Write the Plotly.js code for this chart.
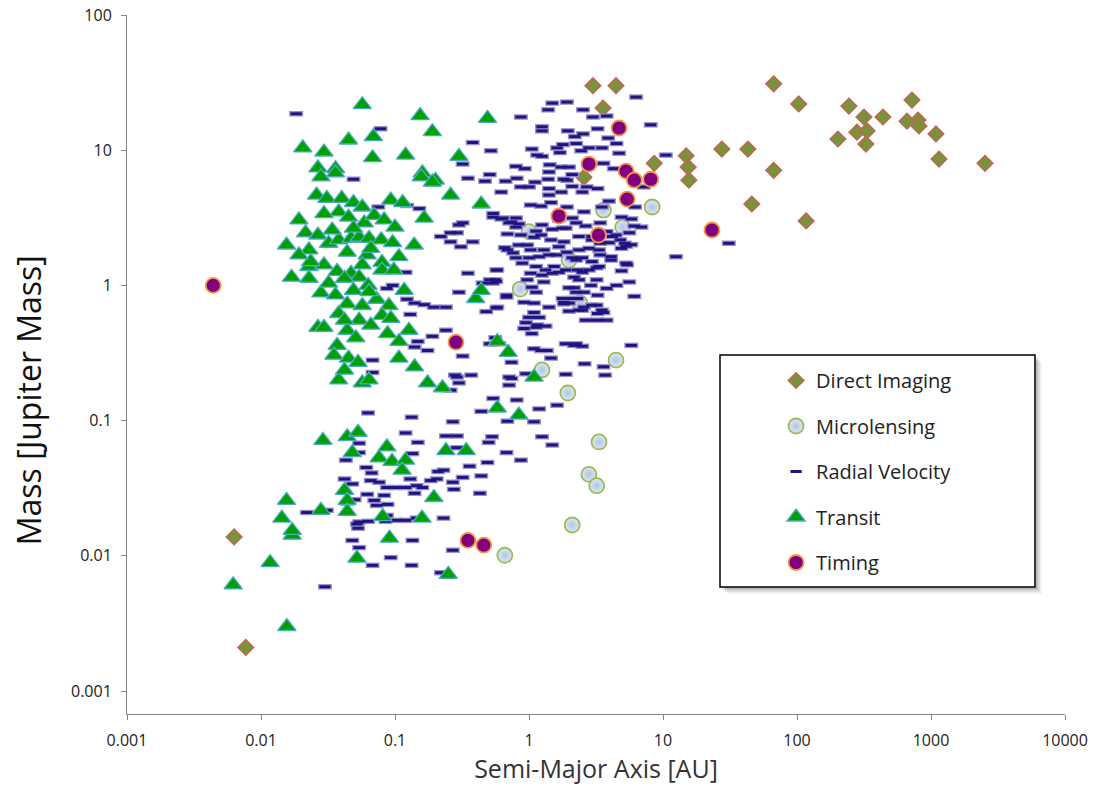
<!DOCTYPE html>
<html>
<head>
<meta charset="utf-8">
<script src="https://cdn.plot.ly/plotly-3.0.1.min.js"></script>
<style>html,body{margin:0;padding:0;background:#fff;}#chart{width:1100px;height:795px;}</style>
</head>
<body>
<div id="chart"></div>
<script>
// ---------- data (semi-major axis [AU], mass [Jupiter mass]) ----------
const seriesNames = ["Direct Imaging", "Microlensing", "Radial Velocity", "Transit", "Timing"];

const diX = [0.0063, 0.0077, 3.0, 4.46, 3.57, 8.6, 2.57, 67, 103, 244, 316, 438, 721, 662, 800, 813, 1089, 280, 333, 202, 327, 1148, 2529, 14.9, 15.4, 15.6, 27.5, 43, 67, 46, 117];
const diY = [0.0138, 0.0021, 30, 30, 20.5, 8.0, 6.3, 31, 22, 21.2, 17.6, 17.6, 23.5, 16.4, 16.7, 15.1, 13.2, 13.6, 13.9, 12.1, 11.1, 8.6, 8.0, 9.1, 7.5, 6.0, 10.2, 10.2, 7.1, 4.0, 3.0];

const muX = [8.3, 3.6, 5.0, 1.0, 1.99, 0.86, 2.4, 4.46, 1.25, 1.95, 3.33, 2.8, 3.2, 2.1, 0.66];
const muY = [3.8, 3.6, 2.7, 2.5, 1.54, 0.94, 0.74, 0.28, 0.237, 0.16, 0.0695, 0.040, 0.033, 0.0169, 0.0101];

const rvX = [1.49, 1.92, 1.39, 2.53, 6.3, 3.0, 3.8, 0.87, 1.25, 1.25, 1.95, 2.53, 2.2, 3.25, 8.1, 3.9, 4.5, 0.38, 0.52, 1.05,
  1.25, 1.62, 1.79, 2.25, 2.45, 2.8, 3.5, 4.7, 1.15, 1.7, 0.80, 0.93, 1.43, 1.74, 1.41, 1.99, 2.1, 1.92, 3.6, 4.3,
  0.35, 0.47, 0.51, 0.67, 0.81, 0.87, 1.0, 1.11, 0.62, 1.39, 1.82, 2.1, 1.41, 1.74, 2.7, 3.25, 2.5, 7.2, 0.0183, 0.078,
  0.049, 0.32, 0.075, 0.152, 0.123, 0.54, 0.64, 0.32, 0.30, 0.26, 0.22, 0.31, 0.38, 0.66, 0.12, 0.35, 0.57, 0.57, 0.54, 0.096,
  0.087, 0.123, 0.14, 0.165, 0.195, 0.24, 0.13, 0.48, 0.57, 0.68, 0.24, 0.19, 0.148, 0.14, 0.175, 0.32, 0.54, 0.068, 0.068, 0.29,
  0.37, 0.56, 0.51, 0.30, 0.26, 0.95, 0.71, 0.71, 1.09, 1.23, 1.36, 1.46, 1.88, 2.17, 1.88, 0.44, 0.54, 0.81, 1.19, 1.62,
  0.69, 1.09, 1.25, 1.49, 0.53, 0.50, 0.68, 0.87, 0.44, 0.43, 0.32, 0.27, 0.275, 0.21, 0.16, 0.14, 0.13, 0.12, 0.10, 0.087,
  0.083, 0.070, 0.073, 0.088, 0.062, 0.061, 0.067, 0.076, 0.066, 0.24, 0.29, 0.29, 0.148, 0.135, 0.063, 0.133, 0.27, 0.12, 0.054, 0.054,
  0.042, 0.048, 0.022, 0.031, 0.050, 0.044, 0.087, 0.10, 0.12, 0.145, 0.23, 0.054, 0.063, 0.36, 0.49, 0.23, 0.205, 0.185, 0.145, 0.085,
  0.052, 0.048, 0.054, 0.043, 0.053, 0.030, 0.068, 0.093, 0.133, 0.22, 0.135, 0.27, 0.29, 0.26, 0.30, 12.5, 31, 10.5, 2.6, 3.6,
  3.7, 0.74, 0.74, 0.28, 1.41, 1.03, 1.23, 1.46, 1.92, 2.57, 3.5, 3.95, 0.62, 0.80, 0.84, 0.71, 1.13, 1.25, 1.49, 1.88,
  2.25, 2.65, 2.1, 1.67, 3.4, 4.45, 4.8, 5.3, 5.6, 6.9, 0.87, 1.23, 1.46, 1.82, 2.36, 2.95, 3.4, 3.95, 0.69, 0.84,
  1.03, 1.29, 1.67, 1.92, 2.36, 2.8, 3.4, 4.1, 4.9, 0.80, 1.0, 1.19, 1.41, 2.1, 2.5, 2.95, 3.33, 2.8, 2.3, 1.88,
  1.54, 1.33, 1.13, 0.89, 1.03, 1.25, 1.49, 0.58, 5.4, 5.6, 4.5, 3.2, 2.36, 1.99, 2.25, 2.57, 2.9, 3.25, 2.1, 1.78,
  1.82, 1.99, 2.57, 2.95, 3.6, 3.25, 3.8, 2.36, 1.99, 1.41, 1.09, 0.92, 0.68, 0.56, 0.58, 1.09, 1.0, 1.19, 0.95, 1.15,
  1.33, 2.25, 2.5, 5.8, 0.76, 0.54, 0.74, 0.80, 0.69, 0.97, 1.09, 1.78, 2.95, 3.8, 4.2, 3.33, 1.6, 2.25, 3.2, 2.5,
  2.17, 1.67, 0.51, 0.45, 0.97, 1.05, 1.29, 1.13, 0.92, 1.13, 1.05, 1.82, 2.3, 2.17, 2.5, 3.2, 3.5, 2.65, 3.2, 5.3,
  6.1, 3.8, 4.1, 4.9, 5.8, 6.1, 0.60, 6.2, 5.8, 4.9, 5.2];
const rvY = [22.3, 22.7, 19.9, 19.9, 24.7, 17.6, 17.9, 17.6, 14.9, 13.9, 13.9, 13.2, 12.6, 14.4, 15.4, 12.3, 11.2, 11.4, 9.9, 10.2,
  9.0, 10.4, 11.0, 11.2, 9.9, 10.4, 10.4, 9.5, 9.2, 9.6, 7.6, 7.3, 7.8, 7.5, 6.9, 7.5, 6.6, 6.0, 8.0, 7.3,
  6.2, 5.9, 6.6, 5.9, 6.2, 5.35, 5.35, 5.8, 4.9, 6.1, 6.1, 5.4, 5.2, 4.9, 5.35, 5.2, 4.9, 5.35, 18.6, 14.4,
  6.1, 7.9, 3.8, 3.7, 3.9, 3.4, 3.15, 2.9, 2.8, 2.45, 2.3, 1.93, 2.1, 1.9, 1.25, 1.23, 1.30, 1.07, 1.04, 1.0,
  0.95, 0.79, 0.74, 0.72, 0.69, 0.69, 0.61, 0.64, 0.68, 0.82, 0.466, 0.42, 0.385, 0.35, 0.33, 0.30, 0.37, 0.28, 0.227, 0.21,
  0.217, 0.41, 0.37, 0.19, 0.168, 0.222, 0.21, 0.183, 0.34, 0.33, 0.33, 0.29, 0.37, 0.36, 0.22, 0.117, 0.146, 0.142, 0.122, 0.130,
  0.099, 0.098, 0.076, 0.066, 0.076, 0.069, 0.058, 0.051, 0.039, 0.029, 0.038, 0.035, 0.031, 0.042, 0.032, 0.029, 0.037, 0.032, 0.032, 0.032,
  0.028, 0.0257, 0.0236, 0.024, 0.0285, 0.045, 0.041, 0.035, 0.036, 0.077, 0.077, 0.063, 0.069, 0.057, 0.114, 0.106, 0.098, 0.081, 0.068, 0.058,
  0.037, 0.034, 0.0209, 0.0217, 0.026, 0.0245, 0.0199, 0.0183, 0.0183, 0.019, 0.019, 0.0178, 0.018, 0.046, 0.049, 0.043, 0.037, 0.036, 0.033, 0.018,
  0.0172, 0.013, 0.0115, 0.051, 0.016, 0.0059, 0.0085, 0.0097, 0.0085, 0.0075, 0.013, 0.011, 2.45, 2.1, 0.89, 1.63, 2.05, 9.2, 0.263, 0.25,
  0.217, 0.205, 0.27, 0.217, 4.66, 3.93, 3.86, 4.1, 3.8, 3.5, 3.8, 4.2, 3.1, 3.15, 2.85, 2.9, 2.52, 2.8, 2.6, 2.65,
  2.9, 2.75, 3.15, 3.05, 2.9, 2.36, 2.17, 1.95, 2.45, 2.7, 2.36, 2.36, 2.17, 2.1, 2.3, 2.17, 2.05, 2.07, 1.83, 1.99,
  1.83, 1.83, 1.93, 1.76, 1.83, 1.88, 1.68, 1.63, 1.88, 1.6, 1.6, 1.63, 1.68, 1.6, 1.6, 1.5, 1.38, 1.3, 1.3, 1.3,
  1.38, 1.3, 1.38, 1.46, 1.23, 1.19, 1.23, 1.3, 1.42, 1.06, 1.0, 1.1, 1.1, 0.96, 0.89, 0.89, 1.0, 0.846, 0.8, 0.8,
  0.73, 0.74, 0.69, 0.714, 0.63, 0.62, 0.553, 0.656, 0.645, 0.69, 0.74, 0.75, 0.846, 1.1, 0.69, 0.63, 0.58, 0.58, 0.53, 0.51,
  0.50, 0.37, 0.355, 0.36, 1.74, 3.2, 2.95, 2.7, 2.4, 1.99, 2.27, 2.65, 2.3, 2.5, 2.3, 1.83, 1.68, 1.54, 1.35, 1.25,
  1.15, 1.25, 1.1, 1.04, 1.1, 0.97, 1.06, 0.89, 0.48, 0.49, 0.44, 0.75, 0.8, 0.96, 0.656, 0.714, 0.656, 0.553, 0.553, 1.46,
  0.83, 0.95, 1.54, 1.28, 2.0, 2.75, 0.37, 3.8, 3.1, 3.2, 2.05];

const trX = [0.057, 0.154, 0.19, 0.49, 0.0205, 0.0295, 0.045, 0.069, 0.068, 0.0266, 0.036, 0.12, 0.30, 0.16, 0.20, 0.26, 0.44, 0.165, 0.026, 0.031,
  0.040, 0.049, 0.093, 0.114, 0.0155, 0.0169, 0.0266, 0.40, 0.44, 0.58, 0.038, 0.045, 0.057, 0.059, 0.07, 0.083, 0.10, 0.0295, 0.0215, 0.0266,
  0.032, 0.038, 0.047, 0.054, 0.064, 0.079, 0.096, 0.0228, 0.044, 0.062, 0.107, 0.08, 0.0228, 0.0295, 0.037, 0.047, 0.054, 0.08, 0.0228, 0.042,
  0.063, 0.028, 0.036, 0.044, 0.057, 0.073, 0.09, 0.08, 0.038, 0.054, 0.0295, 0.044, 0.051, 0.088, 0.107, 0.037, 0.045, 0.053, 0.107, 0.14,
  0.038, 0.057, 0.064, 0.175, 0.028, 0.036, 0.157, 0.19, 0.226, 0.70, 1.09, 0.58, 0.84, 0.029, 0.044, 0.053, 0.048, 0.087, 0.076, 0.095,
  0.12, 0.113, 0.24, 0.34, 0.0155, 0.0143, 0.0171, 0.0171, 0.028, 0.042, 0.044, 0.044, 0.081, 0.159, 0.195, 0.091, 0.052, 0.25, 0.0117, 0.0062,
  0.0156, 0.0192, 0.0235, 0.034, 0.049, 0.066, 0.098, 0.117, 0.032, 0.049, 0.064, 0.042, 0.066, 0.093, 0.035, 0.042, 0.127, 0.0192, 0.057, 0.139];
const trY = [21.7, 18.0, 13.7, 17.2, 10.4, 9.7, 11.9, 12.6, 8.8, 7.4, 7.3, 9.2, 9.0, 6.8, 6.0, 4.66, 4.0, 3.15, 4.66, 4.4,
  4.4, 4.1, 4.28, 4.1, 1.99, 1.15, 0.49, 0.80, 0.92, 0.385, 3.5, 3.2, 3.8, 2.9, 3.3, 3.05, 2.7, 3.4, 2.45, 2.36,
  2.05, 2.17, 2.23, 2.27, 2.23, 2.17, 2.07, 1.83, 1.76, 1.68, 1.63, 1.48, 1.38, 1.42, 1.27, 1.23, 1.15, 1.3, 1.13, 1.13,
  1.0, 0.88, 0.85, 0.73, 0.71, 0.79, 0.71, 0.60, 0.62, 0.553, 0.49, 0.466, 0.41, 0.44, 0.385, 0.36, 0.29, 0.27, 0.29, 0.25,
  0.2, 0.19, 0.2, 0.19, 6.35, 6.8, 6.35, 5.8, 0.175, 0.32, 0.21, 0.124, 0.11, 0.0714, 0.076, 0.082, 0.058, 0.064, 0.053, 0.050,
  0.051, 0.043, 0.06, 0.06, 0.0257, 0.019, 0.0142, 0.0154, 0.0217, 0.0305, 0.0257, 0.0213, 0.0195, 0.019, 0.027, 0.0135, 0.0096, 0.0073, 0.0089, 0.0061,
  0.003, 3.05, 1.5, 2.57, 2.65, 1.88, 1.3, 0.92, 1.04, 0.92, 0.9, 0.553, 0.508, 0.57, 0.305, 0.236, 0.466, 1.68, 1.42, 1.99];

const tiX = [0.0044, 0.285, 0.35, 0.46, 4.7, 2.8, 5.3, 6.1, 8.1, 5.4, 1.67, 3.3, 23.2];
const tiY = [1.0, 0.38, 0.013, 0.012, 14.6, 7.9, 7.0, 6.0, 6.1, 4.35, 3.26, 2.36, 2.57];

const xTickVals = [0.001, 0.01, 0.1, 1, 10, 100, 1000, 10000];
const xTickText = ["0.001", "0.01", "0.1", "1", "10", "100", "1000", "10000"];
const yTickVals = [0.001, 0.01, 0.1, 1, 10, 100];
const yTickText = ["0.001", "0.01", "0.1", "1", "10", "100"];

// ---------- traces ----------
const FONT = "'Open Sans', 'Noto Sans', sans-serif";
const traces = [
  {type: "scatter", mode: "markers", name: seriesNames[0], x: diX, y: diY, legendgroup: "g1",
   marker: {symbol: "diamond", size: 12, color: "#77933c", line: {color: "#c0674f", width: 1.5}}},
  {type: "scatter", mode: "markers", name: seriesNames[1], x: muX, y: muY, legendgroup: "g2",
   marker: {symbol: "circle", size: 15, color: "#dfe8f5", gradient: {type: "radial", color: "#afc4e2"}, line: {color: "#9bbb59", width: 1.8}}},
  {type: "scatter", mode: "markers", name: seriesNames[2], x: rvX, y: rvY, legendgroup: "g3", showlegend: false, hoverinfo: "skip",
   marker: {symbol: "line-ew", size: 10, line: {color: "#9a8fcb", width: 5.5}}},
  {type: "scatter", mode: "markers", name: seriesNames[2], x: rvX, y: rvY, legendgroup: "g3",
   marker: {symbol: "line-ew", size: 8, line: {color: "#1c1580", width: 3}}},
  {type: "scatter", mode: "markers", name: seriesNames[3], x: trX, y: trY, legendgroup: "g4",
   marker: {symbol: "triangle-up", size: 16, color: "#00a000", line: {color: "#4bacc6", width: 1.3}}},
  {type: "scatter", mode: "markers", name: seriesNames[4], x: tiX, y: tiY, legendgroup: "g5",
   marker: {symbol: "circle", size: 15, color: "#800080", line: {color: "#f79646", width: 1.8}}}
];

// legend frame (drawn as shapes so its size matches the original box)
const bx0 = 0.6322, bx1 = 0.968, by0 = 0.1817, by1 = 0.5136;
const dx = 1 / 938, dy = 1 / 699;
const shapes = [];
[[7, 0.05], [5, 0.09], [3, 0.14]].forEach(([o, a]) => {
  shapes.push({type: "rect", xref: "paper", yref: "paper", layer: "above",
    x0: bx0 + o * dx, x1: bx1 + o * dx, y0: by0 - o * dy, y1: by1 - o * dy,
    fillcolor: "rgba(0,0,0," + a + ")", line: {width: 0}});
});
shapes.push({type: "rect", xref: "paper", yref: "paper", layer: "above",
  x0: bx0, x1: bx1, y0: by0, y1: by1, fillcolor: "#ffffff", line: {color: "#000000", width: 1.5}});

const layout = {
  width: 1100, height: 795,
  margin: {l: 127, r: 35, t: 15, b: 81},
  paper_bgcolor: "#ffffff", plot_bgcolor: "#ffffff",
  font: {family: FONT, color: "#222222"},
  showlegend: true,
  xaxis: {
    type: "log", range: [-3, 4], tickmode: "array", tickvals: xTickVals, ticktext: xTickText,
    ticks: "outside", ticklen: 5, tickwidth: 1, tickcolor: "#868686",
    showline: true, linecolor: "#868686", linewidth: 1, showgrid: false, zeroline: false,
    tickfont: {size: 16, color: "#222222"}, ticklabelstandoff: 7,
    title: {text: "Semi-Major Axis [AU]", font: {size: 25, color: "#333333"}, standoff: 7}
  },
  yaxis: {
    type: "log", range: [-3.17, 2], tickmode: "array", tickvals: yTickVals, ticktext: yTickText,
    ticks: "outside", ticklen: 5, tickwidth: 1, tickcolor: "#868686",
    showline: true, linecolor: "#868686", linewidth: 1, showgrid: false, zeroline: false,
    tickfont: {size: 16, color: "#222222"}, ticklabelstandoff: 6
  },
  annotations: [{
    text: "Mass [Jupiter Mass]", xref: "paper", yref: "paper", x: -0.1055, y: 0.449,
    xanchor: "center", yanchor: "middle", textangle: -90, showarrow: false,
    font: {size: 32, color: "#111111", family: FONT}
  }],
  shapes: shapes,
  legend: {
    x: 0.692, y: 0.505, xanchor: "left", yanchor: "top",
    bgcolor: "rgba(0,0,0,0)", borderwidth: 0,
    traceorder: "grouped", tracegroupgap: 16.5,
    font: {size: 20, color: "#222222", family: FONT}
  }
};

Plotly.newPlot("chart", traces, layout, {displayModeBar: false, staticPlot: true});
</script>
</body>
</html>
